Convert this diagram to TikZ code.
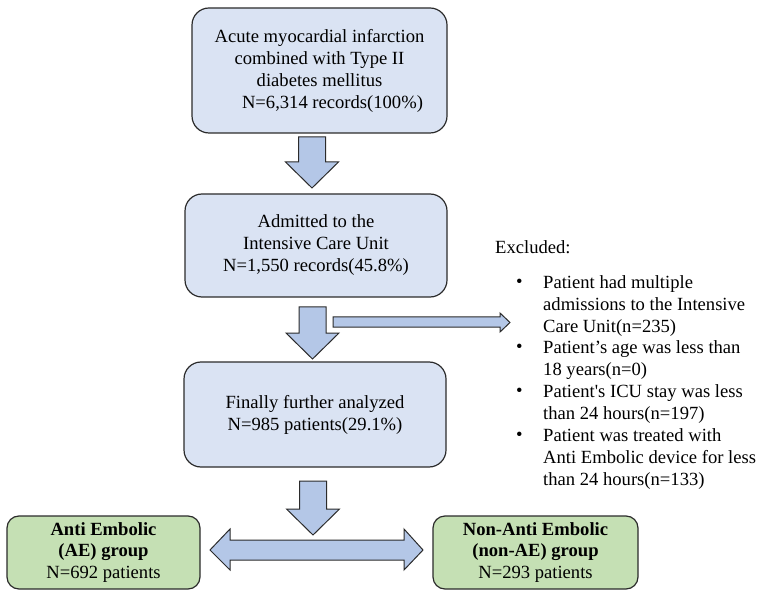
\documentclass[tikz,border=0pt]{standalone}
\usepackage{fontspec}
\setmainfont{Liberation Serif}
\definecolor{boxblue}{HTML}{DAE3F3}
\definecolor{arrowblue}{HTML}{B4C7E7}
\definecolor{boxgreen}{HTML}{C5E0B4}
\definecolor{edgecol}{HTML}{2B2B2B}
\newcommand\DownBlock[3]{% centre x, top y, tip y
  \draw[blockarrow] (#1-13.5,#2) -- (#1+13.5,#2) -- (#1+13.5,#3-26) -- (#1+26.5,#3-26)
    -- (#1,#3) -- (#1-26.5,#3-26) -- (#1-13.5,#3-26) -- cycle;}
\begin{document}
\begin{tikzpicture}[x=1pt,y=-1pt,
  flow/.style={draw=edgecol, line width=1.2pt, fill=boxblue, rounded corners=17pt,
    align=center, inner sep=0pt, font=\fontsize{18.6}{22}\selectfont},
  group/.style={draw=edgecol, line width=1.2pt, fill=boxgreen, rounded corners=12pt,
    align=center, inner sep=0pt, font=\fontsize{18.6}{21.5}\selectfont},
  blockarrow/.style={draw=edgecol, line width=1pt, fill=arrowblue, line join=miter},
  txt/.style={inner sep=0pt, anchor=north west, align=left, font=\fontsize{18.6}{22}\selectfont},
  bul/.style={inner sep=0pt, anchor=north west, font=\fontsize{18.6}{22}\selectfont}]
\useasboundingbox (0,0) rectangle (765,593);

\node[flow, minimum width=255pt, minimum height=125pt] (b1) at (319.5,70.5)
  {Acute myocardial infarction\\combined with Type II\\diabetes mellitus\\\hspace*{26pt}N=6,314 records(100\%)};
\node[flow, minimum width=262pt, minimum height=103pt] (b2) at (316,245.5)
  {Admitted to the\\Intensive Care Unit\\N=1,550 records(45.8\%)};
\node[flow, minimum width=262pt, minimum height=105pt] (b3) at (315,414.5)
  {Finally further analyzed\\N=985 patients(29.1\%)};
\node[group, minimum width=193pt, minimum height=73pt] (ae) at (103.5,552.5)
  {\textbf{Anti Embolic}\\\textbf{(AE) group}\\N=692 patients};
\node[group, minimum width=205pt, minimum height=73pt] (nae) at (535.5,552.5)
  {\textbf{Non-Anti Embolic}\\\textbf{(non-AE) group}\\N=293 patients};

% vertical block arrows
\DownBlock{312}{137}{188}
\DownBlock{312.5}{307}{359}
\DownBlock{313}{481}{535}

% exclusion arrow
\draw[blockarrow] (333,317) -- (500,317) -- (500,313) -- (510,322.5) -- (500,332) -- (500,327) -- (333,327) -- cycle;

% double arrow between groups
\draw[blockarrow] (210,550) -- (230,529) -- (230,540) -- (404,540) -- (404,529) -- (423,550)
  -- (404,570) -- (404,560) -- (230,560) -- (230,570) -- cycle;

% exclusion text
\node[inner sep=0pt, anchor=west, font=\fontsize{18.6}{22}\selectfont] (exc) at (495,247) {Excluded:};
\node[bul] (d1) at (516,279) {\textbullet};
\node[txt] (e1) at (543,275) {Patient had multiple\\admissions to the Intensive\\Care Unit(n=235)};
\node[bul] (d2) at (516,344) {\textbullet};
\node[txt] (e2) at (543,340) {Patient’s age was less than\\18 years(n=0)};
\node[bul] (d3) at (516,388) {\textbullet};
\node[txt] (e3) at (543,384) {Patient\textquotesingle s ICU stay was less\\than 24 hours(n=197)};
\node[bul] (d4) at (516,432) {\textbullet};
\node[txt] (e4) at (543,428) {Patient was treated with\\Anti Embolic device for less\\than 24 hours(n=133)};
\end{tikzpicture}
\end{document}
